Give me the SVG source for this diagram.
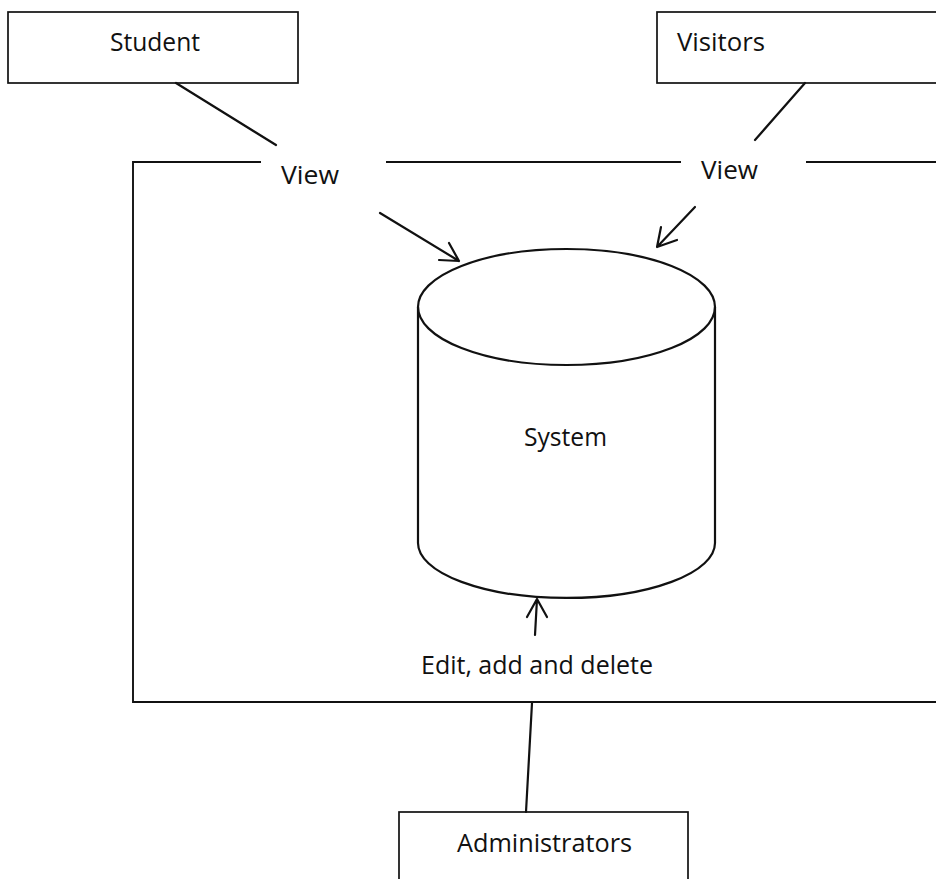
<svg xmlns="http://www.w3.org/2000/svg" width="936" height="879" viewBox="0 0 936 879">
<style>
.box{fill:#fff;stroke:#111;stroke-width:1.7}
.ln{fill:none;stroke:#111;stroke-width:2.2;stroke-linecap:round;stroke-linejoin:round}
.frame{fill:none;stroke:#111;stroke-width:1.9}
.t{font-family:"Open Sans","Liberation Sans",Arial,sans-serif;font-size:25px;fill:#111}
</style>
<rect width="936" height="879" fill="#fff"/>
<g id="boundary">
<path class="frame" d="M261,162 H133 V702 H940"/>
<path class="frame" d="M386,162 H681"/>
<path class="frame" d="M806,162 H940"/>
</g>
<g id="student">
<rect class="box" x="8" y="12" width="290" height="71"/>
<text class="t" x="110" y="51" textLength="90" lengthAdjust="spacingAndGlyphs">Student</text>
</g>
<g id="visitors">
<rect class="box" x="657" y="12" width="290" height="71"/>
<text class="t" x="677" y="51" textLength="88" lengthAdjust="spacingAndGlyphs">Visitors</text>
</g>
<g id="system">
<path class="ln" d="M418,307 V543 A148.5,55 0 0 0 715,543 V307"/>
<ellipse class="ln" cx="566.5" cy="307" rx="148.5" ry="58"/>
<text class="t" x="524" y="446" textLength="83" lengthAdjust="spacingAndGlyphs">System</text>
</g>
<g id="administrators">
<rect class="box" x="399" y="812" width="289" height="80"/>
<text class="t" x="457" y="852" textLength="175" lengthAdjust="spacingAndGlyphs">Administrators</text>
</g>
<g id="connectors">
<line class="ln" x1="176" y1="83" x2="276" y2="145"/>
<line class="ln" x1="805" y1="83" x2="755" y2="140"/>
<line class="ln" x1="532" y1="703" x2="526" y2="812"/>
<path class="ln" d="M380,213 L459,261 M449,243 L459,261 L439,260"/>
<path class="ln" d="M695,207 L657,247 M661,227 L657,247 L677,240"/>
<path class="ln" d="M535,635 L537,599 M527,617 L537,599 L547,617"/>
<text class="t" x="281" y="184" textLength="58" lengthAdjust="spacingAndGlyphs">View</text>
<text class="t" x="701" y="179" textLength="57" lengthAdjust="spacingAndGlyphs">View</text>
<text class="t" x="421" y="674" textLength="232" lengthAdjust="spacingAndGlyphs">Edit, add and delete</text>
</g>
</svg>
